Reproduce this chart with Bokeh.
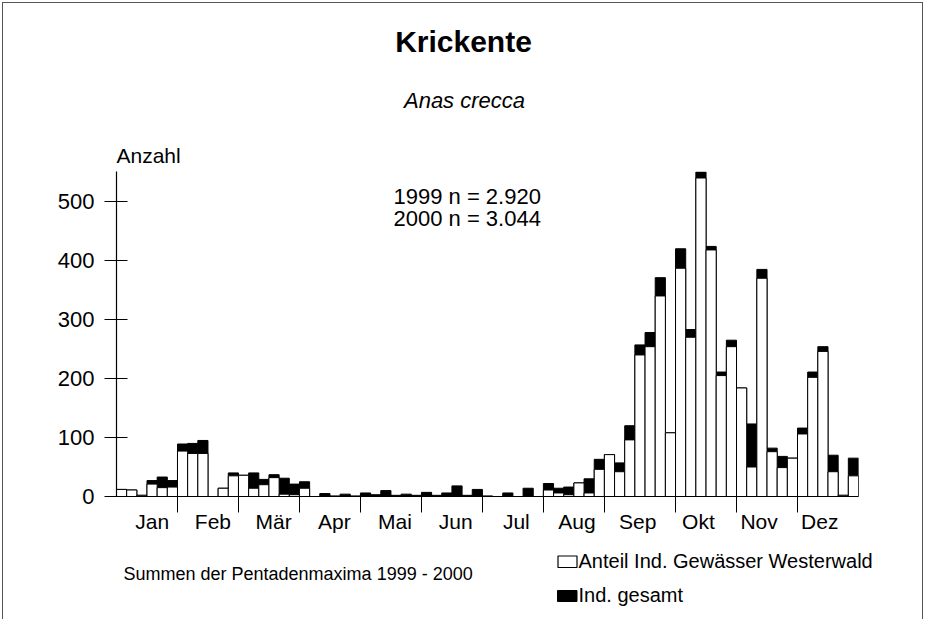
from bokeh.plotting import figure
from bokeh.models import FixedTicker, Range1d
from bokeh.layouts import column
from bokeh.core.properties import value
from bokeh.embed import file_html
from bokeh.resources import INLINE

# ---------------- data ----------------
months = ["Jan", "Feb", "Mär", "Apr", "Mai", "Jun", "Jul", "Aug", "Sep", "Okt", "Nov", "Dez"]
month_bounds = [6, 12, 18, 24, 30, 36, 42, 48, 55, 61, 67]   # pentad index where a month starts
y_ticks = [0, 100, 200, 300, 400, 500]

# total individuals per pentad (73 pentads)
total = [12, 11, 2, 27, 33, 27,
         89, 90, 95, 0, 14, 40,
         36, 40, 29, 37, 31, 21,
         25, 0, 5, 1, 4, 1,
         6, 3, 10, 2, 4, 2,
         7, 2, 6, 18, 2, 12,
         1, 0, 6, 0, 14, 0,
         22, 14, 16, 23, 30, 63,
         71, 57, 120, 257, 278, 371, 108,
         420, 283, 550, 424, 211, 265,
         184, 123, 385, 82, 68, 65,
         116, 211, 254, 70, 2, 65]
# share from waters of the Westerwald
westerwald = [12, 11, 2, 21, 15, 16,
              77, 73, 73, 0, 14, 35,
              36, 14, 20, 32, 4, 3,
              14, 0, 0, 0, 0, 0,
              0, 0, 0, 0, 0, 0,
              0, 0, 0, 0, 0, 0,
              0, 0, 0, 0, 0, 0,
              11, 6, 3, 23, 6, 46,
              71, 42, 96, 240, 254, 340, 108,
              387, 270, 540, 418, 205, 254,
              184, 50, 370, 76, 49, 65,
              106, 202, 246, 42, 2, 35]

title = "Krickente"
subtitle = "Anas crecca"
ylabel = "Anzahl"
note_lines = ["1999 n = 2.920", "2000 n = 3.044"]
footnote = "Summen der Pentadenmaxima  1999 - 2000"
legend_labels = ["Anteil Ind. Gewässer Westerwald", "Ind. gesamt"]

FONT = "Liberation Sans"
N = len(total)
Y_END = 551
OX, OY = 3, 3                 # page offset of the layout (room for the frame line)
W = 919
TOP_H, MAIN_H, BOT_H = 165, 382, 69
BASE_FIX = 0.34               # alphabetic-baseline correction (fraction of font size)


def blank_fig(h):
    f = figure(width=W, height=h, output_backend="svg", toolbar_location=None,
               x_range=Range1d(0, W), y_range=Range1d(h, 0),
               x_axis_type=None, y_axis_type=None, min_border=0,
               outline_line_color=None, background_fill_color="white",
               border_fill_color="white", frame_align=False)
    return f


def txt(f, x, y, s, size, align="left", style="normal"):
    f.text(x=[x], y=[y], text=[s], text_font=value(FONT), text_font_size=f"{size}px",
           text_align=align, text_baseline="alphabetic", text_font_style=style,
           text_color="black")


def ptxt(f, y0, px, py, s, size, align="left", style="normal"):
    # page pixel position of the text baseline -> local figure pixels
    txt(f, px - OX, py - y0 - BASE_FIX * size, s, size, align, style)


# ---- top: titles ----
top = blank_fig(TOP_H)
top_y0 = OY
ptxt(top, top_y0, 463, 51, title, 30, "center", "bold")
ptxt(top, top_y0, 464, 107.7, subtitle, 22, "center", "italic")
ptxt(top, top_y0, 116, 161.7, ylabel, 21)

# ---- main chart ----
main_y0 = OY + TOP_H
FRAME_L, FRAME_R, FRAME_T, FRAME_B = 116, 858, 171, 496
p = figure(width=W, height=MAIN_H, output_backend="svg", toolbar_location=None,
           x_range=Range1d(0, N), y_range=Range1d(0, Y_END),
           min_border_left=FRAME_L - OX, min_border_right=W - (FRAME_R - OX),
           min_border_top=FRAME_T - main_y0,
           min_border_bottom=MAIN_H - (FRAME_B - main_y0), frame_align=False,
           background_fill_color="white", border_fill_color="white",
           outline_line_color=None)
p.xgrid.visible = False
p.ygrid.visible = False

xs = [i + 0.5 for i in range(N)]
r_tot = p.vbar(x=xs, top=total, width=1.0, bottom=0,
               fill_color="black", line_color="black", line_width=1)
r_ww = p.vbar(x=xs, top=westerwald, width=1.0, bottom=0,
              fill_color="white", line_color="black", line_width=1)

label_pos = [round(3.52 + 5.97 * i, 2) for i in range(len(months))]
xax = p.xaxis[0]
xax.ticker = FixedTicker(ticks=label_pos, minor_ticks=month_bounds)
xax.major_label_overrides = {lp: m for lp, m in zip(label_pos, months)}
xax.major_tick_out = 0
xax.major_tick_in = 0
xax.minor_tick_out = 16
xax.minor_tick_in = 0
xax.minor_tick_line_color = "black"
xax.axis_line_color = "black"
xax.axis_line_width = 1.2
xax.major_label_standoff = -3
xax.major_label_text_font = FONT
xax.major_label_text_font_size = "21px"
xax.major_label_text_color = "black"

yax = p.yaxis[0]
yax.ticker = FixedTicker(ticks=y_ticks, minor_ticks=[])
yax.major_tick_in = 11
yax.major_tick_out = 12
yax.major_tick_line_color = "black"
yax.axis_line_color = "black"
yax.axis_line_width = 1.2
yax.major_label_standoff = 10
yax.major_label_text_font = FONT
yax.major_label_text_font_size = "22px"
yax.major_label_text_color = "black"

# note inside the frame: page pixels -> data units
sx = (FRAME_R - FRAME_L) / N
sy = (FRAME_B - FRAME_T) / Y_END


def ntxt(px, py, s, size):
    py = py - BASE_FIX * size
    txt(p, (px - FRAME_L) / sx, (FRAME_B - py) / sy, s, size)


ntxt(393, 203.3, note_lines[0], 22)
ntxt(393, 225.0, note_lines[1], 22)

# ---- bottom: footnote and legend ----
bot = blank_fig(BOT_H)
b0 = OY + TOP_H + MAIN_H
ptxt(bot, b0, 123, 579.3, footnote, 18)
bot.quad(left=[557.5 - OX], right=[576.5 - OX], top=[555.5 - b0], bottom=[567 - b0],
         fill_color="white", line_color="black", line_width=1.2)
bot.quad(left=[557 - OX], right=[576.5 - OX], top=[590 - b0], bottom=[601 - b0],
         fill_color="black", line_color="black", line_width=1)
ptxt(bot, b0, 578, 567.7, legend_labels[0], 20)
ptxt(bot, b0, 578, 601, legend_labels[1], 20)

lay = column(top, p, bot, spacing=0,
             styles={"margin-left": f"{OX}px", "margin-top": f"{OY}px",
                     "outline": "1px solid #555",
                     "clip-path": "inset(-4px -4px 0px -4px)"})

open("out.html", "w").write(file_html(lay, INLINE))
